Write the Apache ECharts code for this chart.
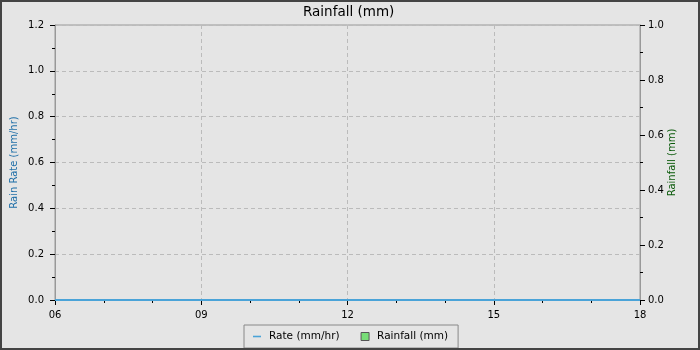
<!DOCTYPE html>
<html><head><meta charset="utf-8">
<script src="https://cdn.jsdelivr.net/npm/echarts@6/dist/echarts.min.js"></script>
<style>html,body{margin:0;padding:0;background:#e5e5e5}#c{width:700px;height:350px}</style>
</head><body><div id="c"></div>
<script>
const hours = [6,7,8,9,10,11,12,13,14,15,16,17,18];
const rateValues = [0,0,0,0,0,0,0,0,0,0,0,0,0];
const rainfallValues = [0,0,0,0,0,0,0,0,0,0,0,0,0];
const xTicks = [6,9,12,15,18];
const leftTicks = [0,0.2,0.4,0.6,0.8,1.0,1.2];
const rightTicks = [0,0.2,0.4,0.6,0.8,1.0];

const font = 'DejaVu Sans';
const chart = echarts.init(document.getElementById('c'), null, {renderer:'canvas'});
chart.setOption({
  backgroundColor:'#e5e5e5',
  animation:false,
  textStyle:{fontFamily:font},
  title:{text:'Rainfall (mm)', left:303, top:5, padding:0, textStyle:{fontFamily:font, fontSize:13.5, fontWeight:'normal', color:'#000'}},
  grid:{left:55, right:60, top:25, bottom:50, show:true, borderColor:'#999', borderWidth:1, backgroundColor:'transparent', containLabel:false, outerBoundsMode:'none'},
  legend:{
    left:244, top:325,
    padding:[6,10,6,9], itemGap:21, itemWidth:8, itemHeight:8,
    borderColor:'#888', borderWidth:1, borderRadius:0, backgroundColor:'#e5e5e5',
    textStyle:{fontFamily:font, fontSize:10.5, color:'#000', padding:[0,0,0,3]},
    data:[
      {name:'Rate (mm/hr)', icon:'path://M0,0h10v2h-10z', itemStyle:{color:'#4aa3d8'}},
      {name:'Rainfall (mm)', icon:'rect', itemStyle:{color:'#77dd77', borderColor:'#555', borderWidth:1}}
    ]
  },
  graphic:[{type:'rect', z:100, silent:true, shape:{x:1, y:1, width:698, height:348}, style:{fill:null, stroke:'#444', lineWidth:2}}],
  xAxis:{
    type:'value', min:xTicks[0], max:xTicks[xTicks.length-1], interval:3,
    axisLine:{show:true, lineStyle:{color:'#999'}},
    axisTick:{show:true, length:5, inside:false, lineStyle:{color:'#000'}},
    minorTick:{show:true, splitNumber:3, length:3, lineStyle:{color:'#000'}},
    axisLabel:{fontFamily:font, fontSize:10, color:'#000', margin:10, formatter:v=>String(v).padStart(2,'0')},
    splitLine:{show:true, lineStyle:{color:'#bbb', type:[4,3]}}
  },
  yAxis:[
    {type:'value', min:leftTicks[0], max:leftTicks[leftTicks.length-1], interval:0.2,
     name:'Rain Rate (mm/hr)', nameLocation:'middle', nameGap:36, nameRotate:90, nameMoveOverlap:false,
     nameTextStyle:{fontFamily:font, fontSize:10, color:'#1f6fa8'},
     axisLine:{show:true, lineStyle:{color:'#999'}},
     axisTick:{show:true, length:5, lineStyle:{color:'#000'}},
     minorTick:{show:true, splitNumber:2, length:3, lineStyle:{color:'#000'}},
     axisLabel:{fontFamily:font, fontSize:10, color:'#000', margin:11, formatter:v=>v.toFixed(1)},
     splitLine:{show:true, lineStyle:{color:'#bbb', type:[4,3]}}},
    {type:'value', min:rightTicks[0], max:rightTicks[rightTicks.length-1], interval:0.2, position:'right',
     name:'Rainfall (mm)', nameLocation:'middle', nameGap:27, nameRotate:90, nameMoveOverlap:false,
     nameTextStyle:{fontFamily:font, fontSize:10, color:'#0a5a0a'},
     axisLine:{show:true, lineStyle:{color:'#999'}},
     axisTick:{show:true, length:5, lineStyle:{color:'#000'}},
     minorTick:{show:true, splitNumber:2, length:3, lineStyle:{color:'#000'}},
     axisLabel:{fontFamily:font, fontSize:10, color:'#000', margin:8, formatter:v=>v.toFixed(1)},
     splitLine:{show:false}}
  ],
  series:[
    {name:'Rainfall (mm)', type:'bar', yAxisIndex:1, barWidth:20, z:1,
     itemStyle:{color:'#77dd77', borderWidth:0},
     data:hours.map((h,i)=>[h, rainfallValues[i]])},
    {name:'Rate (mm/hr)', type:'line', yAxisIndex:0, showSymbol:false, symbol:'none', z:5,
     lineStyle:{color:'#4aa3d8', width:2}, itemStyle:{color:'#4aa3d8'},
     data:hours.map((h,i)=>[h, rateValues[i]])}
  ]
});
</script></body></html>
